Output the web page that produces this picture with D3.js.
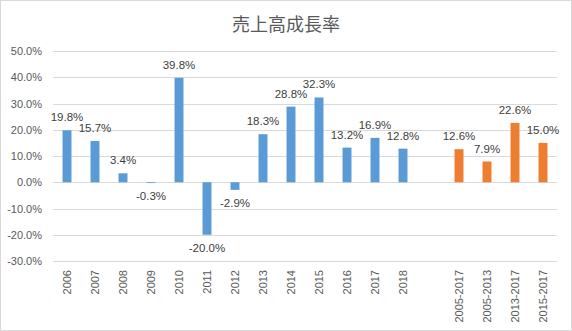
<!DOCTYPE html>
<html>
<head>
<meta charset="utf-8">
<script src="https://cdn.jsdelivr.net/npm/d3@7"></script>
<style>
  html, body { margin: 0; padding: 0; background: #fff; }
  svg { display: block; }
</style>
</head>
<body>
<svg id="chart" width="572" height="331"></svg>
<script>
// Annual growth rates (%) and multi-year averages
const categories = ["2006","2007","2008","2009","2010","2011","2012","2013","2014","2015","2016","2017","2018","","2005-2017","2005-2013","2013-2017","2015-2017"];
const yearValues = [19.8, 15.7, 3.4, -0.3, 39.8, -20.0, -2.9, 18.3, 28.8, 32.3, 13.2, 16.9, 12.8];
const periodLabels = ["2005-2017","2005-2013","2013-2017","2015-2017"];
const periodValues = [12.6, 7.9, 22.6, 15.0];
const yTicks = [-30, -20, -10, 0, 10, 20, 30, 40, 50];
const title = "売上高成長率";

const W = 572, H = 331;
const margin = { left: 53, right: 15, top: 51, bottom: 70 };
const svg = d3.select("#chart");

// chart area border
svg.append("rect").attr("x", 0.5).attr("y", 0.5).attr("width", W - 1).attr("height", H - 1)
  .attr("fill", "#fff").attr("stroke", "#d9d9d9");

const x = d3.scaleBand().domain(d3.range(categories.length))
  .range([margin.left, W - margin.right]).paddingInner(0.68).paddingOuter(0.34);
const y = d3.scaleLinear().domain([-30, 50]).range([261, 51]);

// gridlines
svg.append("g").selectAll("line").data(yTicks).join("line")
  .attr("x1", margin.left).attr("x2", W - margin.right)
  .attr("y1", d => Math.round(y(d)) + 0.5).attr("y2", d => Math.round(y(d)) + 0.5)
  .attr("stroke", "#d9d9d9").attr("stroke-width", 1);

// y axis labels
const yAxis = d3.axisLeft(y).tickValues(yTicks).tickSize(0).tickPadding(0)
  .tickFormat(d => d.toFixed(1) + "%");
svg.append("g").attr("transform", `translate(${margin.left - 11},0)`).call(yAxis)
  .call(g => g.select(".domain").remove())
  .selectAll("text").attr("fill", "#595959")
  .style("font-family", "'Liberation Sans', Arial, sans-serif").style("font-size", "11px");

// x axis labels, rotated
const xAxis = d3.axisBottom(x).tickSize(0).tickPadding(0).tickFormat(i => categories[i]);
svg.append("g").attr("transform", `translate(0,270)`).call(xAxis)
  .call(g => g.select(".domain").remove())
  .selectAll("text")
  .attr("transform", "rotate(-90)")
  .attr("x", 0).attr("y", 0).attr("dy", "0.35em")
  .attr("text-anchor", "end")
  .attr("fill", "#595959")
  .style("font-family", "'Liberation Sans', Arial, sans-serif").style("font-size", "11px");

const rows = yearValues.map((v, i) => ({ i, v, c: "#5b9bd5" }))
  .concat(periodValues.map((v, k) => ({ i: categories.indexOf(periodLabels[k]), v, c: "#ed7d31" })));

svg.append("g").selectAll("rect").data(rows).join("rect")
  .attr("x", d => x(d.i)).attr("width", x.bandwidth())
  .attr("y", d => y(Math.max(0, d.v)))
  .attr("height", d => Math.abs(y(d.v) - y(0)))
  .attr("fill", d => d.c);

// value labels
svg.append("g").selectAll("text").data(rows).join("text")
  .attr("x", d => x(d.i) + x.bandwidth() / 2)
  .attr("y", d => d.v >= 0 ? y(d.v) - 13 : y(d.v) + 13)
  .attr("dy", "0.35em")
  .attr("text-anchor", "middle")
  .attr("fill", "#404040")
  .style("font-family", "'Liberation Sans', Arial, sans-serif").style("font-size", "11.5px")
  .text(d => d.v.toFixed(1) + "%");

// title
svg.append("text").attr("x", 286).attr("y", 25).attr("dy", "0.35em")
  .attr("text-anchor", "middle").attr("fill", "#595959")
  .style("font-family", "'Noto Sans CJK JP', sans-serif").style("font-size", "18px")
  .text(title);
</script>
</body>
</html>
